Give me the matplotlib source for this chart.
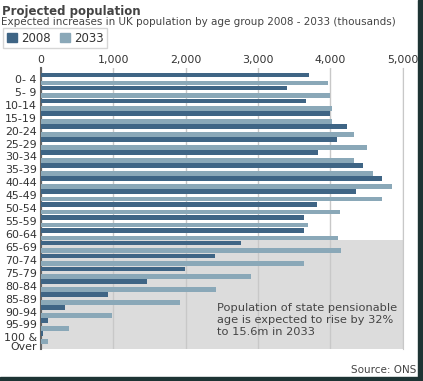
import matplotlib.pyplot as plt
import matplotlib.patches as mpatches
import matplotlib.transforms as mtransforms
import numpy as np

age_groups = ['0- 4', '5- 9', '10-14', '15-19', '20-24', '25-29', '30-34', '35-39',
              '40-44', '45-49', '50-54', '55-59', '60-64', '65-69', '70-74', '75-79',
              '80-84', '85-89', '90-94', '95-99', '100 &\nOver']
pop_2008 = [3710, 3400, 3665, 3995, 4235, 4090, 3825, 4445,
            4715, 4360, 3815, 3640, 3640, 2765, 2405, 1995,
            1470, 925, 330, 100, 25]
pop_2033 = [3965, 3995, 4025, 4025, 4320, 4510, 4320, 4590,
            4855, 4715, 4135, 3690, 4100, 4145, 3630, 2900,
            2420, 1925, 975, 390, 100]
xticks = [0, 1000, 2000, 3000, 4000, 5000]

dark = '#3f6585'
light = '#8aa8b8'
W, H = 423, 381

fig = plt.figure(figsize=(W / 100, H / 100), dpi=100)
fig.patch.set_facecolor('white')

ax = fig.add_axes([41 / W, 1 - 349 / H, (402.7 - 41) / W, (349 - 68) / H])
y = np.arange(len(age_groups))
ax.axhspan(12.5, 20.9, color='#dcdcdc', zorder=0, lw=0)
ax.barh(y - 0.3, pop_2008, height=0.37, color=dark, zorder=3, lw=0)
ax.barh(y + 0.3, pop_2033, height=0.36, color=light, zorder=3, lw=0)

ax.set_xlim(0, 5000)
ax.set_ylim(20.9, -0.85)
ax.set_xticks(xticks)
ax.set_xticklabels(['{:,}'.format(v) for v in xticks])
ax.xaxis.tick_top()
ax.set_yticks(y)
ax.set_yticklabels(age_groups, linespacing=0.8)
ax.tick_params(length=0, labelsize=7.9, colors='#333333', pad=3)
ax.tick_params(axis='x', pad=2)
ax.grid(axis='x', color='#c8c8c8', lw=1, zorder=1)
for s in ['top', 'bottom']:
    ax.spines[s].set_visible(False)
ax.spines['right'].set_color('#c8c8c8')
ax.spines['left'].set_color('#666666')
ax.spines['left'].set_linewidth(1.5)
ax.set_facecolor('white')

# push the two-line last label down a little, as in the original
last = ax.get_yticklabels()[-1]
last.set_transform(last.get_transform() + mtransforms.ScaledTranslation(0, -5 / 100, fig.dpi_scale_trans))

ax.text(2430, 17.35, 'Population of state pensionable\nage is expected to rise by 32%\nto 15.6m in 2033',
        fontsize=8.2, color='#444444', va='top', ha='left', linespacing=1.25, zorder=4)

fig.text(2 / W, 1 - 12 / H, 'Projected population', fontsize=8.5, fontweight='bold',
         color='#444444', va='center', ha='left')
fig.text(1 / W, 1 - 22 / H, 'Expected increases in UK population by age group 2008 - 2033 (thousands)',
         fontsize=7.45, color='#444444', va='center', ha='left')

handles = [mpatches.Patch(color=dark, label='2008'), mpatches.Patch(color=light, label='2033')]
leg = fig.legend(handles=handles, loc='upper left', bbox_to_anchor=(3 / W, 1 - 28 / H), ncol=2,
                 frameon=True, fancybox=False, edgecolor='#cccccc', fontsize=8.5,
                 handlelength=0.9, handleheight=0.9, handletextpad=0.3, columnspacing=0.8,
                 borderpad=0.3, borderaxespad=0)
for t in leg.get_texts():
    t.set_color('#333333')

fig.text(416 / W, 1 - 370 / H, 'Source: ONS', fontsize=7.5, color='#444444', va='center', ha='right')

# dark frame on the right and bottom edges
fig.patches.append(mpatches.Rectangle((418 / W, 0), 5 / W, 1, transform=fig.transFigure,
                                      color='#1e3434', zorder=10))
fig.patches.append(mpatches.Rectangle((0, 0), 1, 4 / H, transform=fig.transFigure,
                                      color='#1e3434', zorder=10))

fig.savefig('out.png', dpi=100)
